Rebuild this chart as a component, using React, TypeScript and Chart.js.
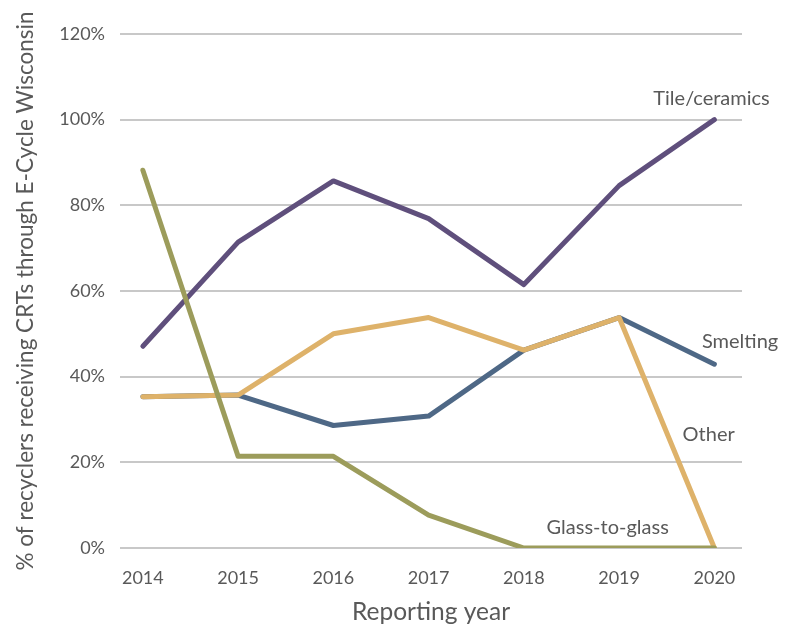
import React, { useEffect, useRef } from "react";
import { Chart, registerables } from "chart.js";

Chart.register(...registerables);

const years = [2014, 2015, 2016, 2017, 2018, 2019, 2020];
const tileCeramics = [47.1, 71.4, 85.7, 76.9, 61.5, 84.6, 100];
const smelting = [35.3, 35.7, 28.6, 30.8, 46.2, 53.8, 42.9];
const other = [35.3, 35.7, 50.0, 53.8, 46.2, 53.8, 0];
const glassToGlass = [88.2, 21.4, 21.4, 7.7, 0, 0, 0];

const seriesNames = ["Tile/ceramics", "Smelting", "Other", "Glass-to-glass"];
const seriesColors = ["#5f4f7c", "#4e6886", "#deb26a", "#9c9c5b"];
// label anchor positions in data space (x = year, y = percent)
const labelX = [2019.97, 2020.27, 2019.94, 2018.88];
const labelY = [105, 48.3, 26.6, 4.7];

const FONT = "Lato, sans-serif";

export default function App() {
  const ref = useRef<HTMLCanvasElement | null>(null);
  useEffect(() => {
    if (!ref.current) return;
    const seriesValues = [tileCeramics, smelting, other, glassToGlass];
    const labelPlugin = {
      id: "seriesLabels",
      afterDatasetsDraw(chart: any) {
        const { ctx, scales } = chart;
        ctx.save();
        ctx.font = `20px ${FONT}`;
        ctx.fillStyle = "#595959";
        ctx.textAlign = "center";
        ctx.textBaseline = "middle";
        seriesNames.forEach((n, i) => {
          ctx.fillText(n, scales.x.getPixelForValue(labelX[i]), scales.y.getPixelForValue(labelY[i]));
        });
        ctx.restore();
      },
    };
    const chart = new Chart(ref.current, {
      type: "line",
      data: {
        datasets: seriesNames.map((name, i) => ({
          label: name,
          data: years.map((yr, j) => ({ x: yr, y: seriesValues[i][j] })),
          borderColor: seriesColors[i],
          backgroundColor: seriesColors[i],
          borderWidth: 5,
          pointRadius: 0,
          borderCapStyle: "round",
          borderJoinStyle: "round",
          tension: 0,
          fill: false,
        })).reverse(),
      },
      plugins: [labelPlugin],
      options: {
        animation: false,
        responsive: true,
        maintainAspectRatio: false,
        layout: { padding: { top: 34, right: 46, left: 0, bottom: 0 } },
        plugins: { legend: { display: false }, tooltip: { enabled: false } },
        scales: {
          x: {
            type: "linear",
            min: 2013.76,
            max: 2020.29,
            afterFit(scale: any) {
              scale.height = 80;
            },
            ticks: {
              stepSize: 1,
              includeBounds: false,
              autoSkip: false,
              maxRotation: 0,
              padding: 19,
              color: "#595959",
              font: { family: FONT, size: 18 },
              callback: (v: any) => String(v),
            },
            grid: { display: false, drawTicks: false },
            border: { display: false },
            title: {
              display: true,
              text: "Reporting year",
              color: "#595959",
              font: { family: FONT, size: 24.5 },
              padding: { top: 0, bottom: 1 },
            },
          },
          y: {
            min: 0,
            max: 120,
            afterFit(scale: any) {
              scale.width = 120;
            },
            ticks: {
              stepSize: 20,
              padding: 15,
              color: "#595959",
              font: { family: FONT, size: 18 },
              callback: (v: any) => v + "%",
            },
            grid: { color: "#c8c8c8", lineWidth: 2, drawTicks: false },
            border: { display: false },
            title: {
              display: true,
              text: "% of recyclers receiving CRTs through E-Cycle Wisconsin",
              color: "#595959",
              font: { family: FONT, size: 22.5 },
              padding: { top: 12, bottom: 0 },
            },
          },
        },
      },
    });
    return () => chart.destroy();
  }, []);
  return (
    <div style={{ position: "absolute", left: 0, top: 0, width: 788, height: 628, background: "#fff" }}>
      <canvas ref={ref} />
    </div>
  );
}
